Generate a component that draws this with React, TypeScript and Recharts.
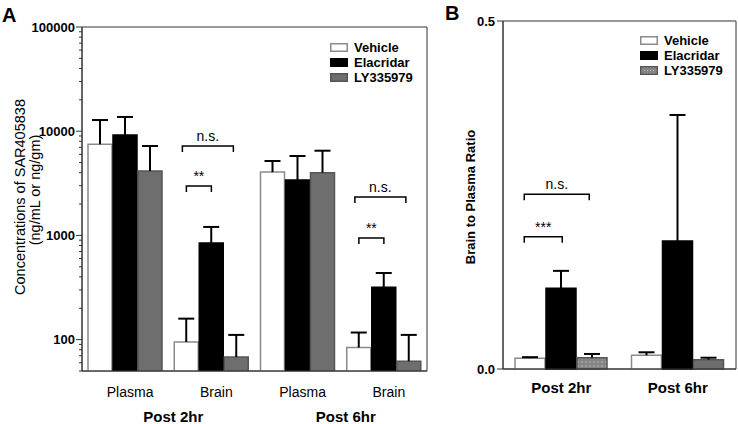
import React from "react";
import {
  BarChart,
  Bar,
  XAxis,
  YAxis,
  ErrorBar,
  ReferenceDot,
  ReferenceArea,
  Legend,
  Cell,
} from "recharts";

const FONT = '"Liberation Sans", Arial, Helvetica, sans-serif';

// Panel A: concentrations of SAR405838 (ng/mL or ng/gm), log axis
const tissues = ["Plasma", "Brain", "Plasma", "Brain"];
const timeLabels = ["Post 2hr", "Post 6hr"];
const vehicleConc = [7500, 95, 4050, 84];
const vehicleConcErr = [5300, 64, 1130, 33];
const elacridarConc = [9200, 846, 3400, 318];
const elacridarConcErr = [4500, 360, 2380, 118];
const lyConc = [4150, 68, 4000, 62];
const lyConcErr = [3060, 43, 2500, 49];
const decadeTicks = [100, 1000, 10000, 100000];

// Panel B: brain to plasma ratio
const vehicleRatio = [0.0154, 0.0197];
const vehicleRatioErr = [0.0016, 0.0043];
const elacridarRatio = [0.116, 0.184];
const elacridarRatioErr = [0.025, 0.181];
const lyRatio = [0.016, 0.0134];
const lyRatioErr = [0.0056, 0.0028];
const ratioTicks = [0, 0.5];

// significance brackets: group they sit over, height in data units, text
const bracketsA = [
  { group: 1, y: 7200, text: "n.s.", wide: true },
  { group: 1, y: 2980, text: "**", wide: false },
  { group: 3, y: 2340, text: "n.s.", wide: true },
  { group: 3, y: 944, text: "**", wide: false },
];
const bracketsB = [
  { group: 0, y: 0.251, text: "n.s.", wide: true },
  { group: 0, y: 0.19, text: "***", wide: false },
];

const concRows = tissues.map((tissue, i) => ({
  key: `${tissue} ${timeLabels[Math.floor(i / 2)]}`,
  tissue,
  time: timeLabels[Math.floor(i / 2)],
  vehicle: vehicleConc[i],
  vehicleErr: [0, vehicleConcErr[i]],
  elacridar: elacridarConc[i],
  elacridarErr: [0, elacridarConcErr[i]],
  ly: lyConc[i],
  lyErr: [0, lyConcErr[i]],
}));

const ratioRows = timeLabels.map((time, i) => ({
  time,
  vehicle: vehicleRatio[i],
  vehicleErr: [0, vehicleRatioErr[i]],
  elacridar: elacridarRatio[i],
  elacridarErr: [0, elacridarRatioErr[i]],
  ly: lyRatio[i],
  lyErr: [0, lyRatioErr[i]],
}));

// minor log ticks: 50..90, then 2..9 x each decade
const logTicks = [50, 60, 70, 80, 90].concat(
  decadeTicks.slice(0, -1).flatMap((d) => [1, 2, 3, 4, 5, 6, 7, 8, 9].map((m) => m * d)),
  [100000]
);

const GRAY = "#6e6e6e";
const AXIS = "#333";

function LogTick({ x, y, payload }: any) {
  const v = payload.value;
  const major = decadeTicks.includes(v);
  return (
    <g>
      <line x1={x - (major ? 6 : 3)} x2={x} y1={y} y2={y} stroke={AXIS} />
      {major && (
        <text
          x={x - 7}
          y={y}
          dy={4.5}
          textAnchor="end"
          fontFamily={FONT}
          fontWeight="bold"
          fontSize={13}
          fill="#000"
        >
          {v}
        </text>
      )}
    </g>
  );
}

// bracket drawn around the group centre (cx) at the line height (cy)
function Bracket({ cx, cy, left, right, text }: any) {
  if (cx == null || cy == null) return null;
  const l = cx + left;
  const r = cx + right;
  return (
    <g>
      <path
        d={`M${l},${cy + 6}V${cy}H${r}V${cy + 6}`}
        fill="none"
        stroke="#000"
        strokeWidth={1.5}
      />
      <text
        x={(l + r) / 2}
        y={cy - 5}
        textAnchor="middle"
        fontFamily={FONT}
        fontSize={14}
        fill="#000"
      >
        {text}
      </text>
    </g>
  );
}

function Swatch({ fill, stroke, dotted }: any) {
  return (
    <svg width={18} height={9} style={{ marginRight: 6, display: "block" }}>
      {dotted && (
        <defs>
          <pattern id="dotsLegend" width={3} height={3} patternUnits="userSpaceOnUse">
            <rect width={3} height={3} fill="#858585" />
            <circle cx={1.5} cy={1.5} r={0.6} fill="#c8c8c8" />
          </pattern>
        </defs>
      )}
      <rect
        x={0.75}
        y={0.75}
        width={16.5}
        height={7.5}
        fill={dotted ? "url(#dotsLegend)" : fill}
        stroke={stroke}
        strokeWidth={1.5}
      />
    </svg>
  );
}

function LegendBox({ dottedLy }: { dottedLy?: boolean }) {
  const items = [
    { name: "Vehicle", fill: "#fff", stroke: "#8a8a8a" },
    { name: "Elacridar", fill: "#000", stroke: "#000" },
    { name: "LY335979", fill: GRAY, stroke: "#555", dotted: dottedLy },
  ];
  return (
    <div style={{ fontFamily: FONT, fontWeight: "bold", fontSize: 13, color: "#000" }}>
      {items.map((it) => (
        <div key={it.name} style={{ display: "flex", alignItems: "center", height: 15 }}>
          <Swatch {...it} />
          {it.name}
        </div>
      ))}
    </div>
  );
}

const errProps = { direction: "y" as const, stroke: "#000", strokeWidth: 2, isAnimationActive: false };

function ConcentrationChart() {
  return (
    <BarChart
      width={440}
      height={424}
      data={concRows}
      margin={{ top: 27, right: 13, bottom: 0, left: 0 }}
      barSize={24}
      barGap={1}
    >
      <XAxis
        xAxisId="cat"
        dataKey="key"
        height={30}
        interval={0}
        tickFormatter={(k, i) => tissues[i]}
        tickLine={false}
        tickSize={0}
        tickMargin={16}
        axisLine={{ stroke: AXIS }}
        tick={{ fontSize: 14, fill: "#000", fontFamily: FONT, dx: 5 }}
      />
      <XAxis
        xAxisId="time"
        dataKey="time"
        allowDuplicatedCategory={false}
        height={23}
        axisLine={false}
        tickLine={false}
        tickSize={0}
        tickMargin={10}
        tick={{ fontSize: 15, fontWeight: "bold", fill: "#000", fontFamily: FONT, dx: 5 }}
      />
      <YAxis
        scale="log"
        domain={[50, 100000]}
        allowDataOverflow
        ticks={logTicks}
        interval={0}
        width={82}
        tickLine={false}
        tickSize={0}
        tickMargin={0}
        axisLine={{ stroke: AXIS }}
        tick={<LogTick />}
      />
      <ReferenceArea xAxisId="cat" y1={50} y2={100000} fill="none" stroke={AXIS} ifOverflow="visible" />
      <Legend
        layout="vertical"
        align="center"
        verticalAlign="middle"
        content={() => <LegendBox />}
        wrapperStyle={{ left: 330, top: 40, width: "auto" }}
      />
      <Bar xAxisId="cat" dataKey="vehicle" name="Vehicle" fill="#fff" stroke="#8a8a8a" strokeWidth={1.5} isAnimationActive={false}>
        <ErrorBar dataKey="vehicleErr" width={8} {...errProps} />
      </Bar>
      <Bar xAxisId="cat" dataKey="elacridar" name="Elacridar" fill="#000" stroke="#000" strokeWidth={1.5} isAnimationActive={false}>
        <ErrorBar dataKey="elacridarErr" width={8} {...errProps} />
      </Bar>
      <Bar xAxisId="cat" dataKey="ly" name="LY335979" fill={GRAY} stroke="#555" strokeWidth={1.5} isAnimationActive={false}>
        <ErrorBar dataKey="lyErr" width={8} {...errProps} />
      </Bar>
      {bracketsA.map((b, i) => (
        <ReferenceDot
          key={i}
          xAxisId="cat"
          x={concRows[b.group].key}
          y={b.y}
          ifOverflow="visible"
          shape={(p: any) => (
            <Bracket
              cx={p.cx}
              cy={p.cy}
              left={b.wide ? -29 : -25}
              right={b.wide ? 22 : 0}
              text={b.text}
            />
          )}
        />
      ))}
    </BarChart>
  );
}

// the 2hr LY335979 bar is hatched with dots in panel B
const lyFillsB = ["url(#dotsB)", GRAY];

function RatioChart() {
  return (
    <BarChart
      width={298}
      height={424}
      data={ratioRows}
      margin={{ top: 21, right: 2, bottom: 0, left: 0 }}
      barSize={30}
      barGap={1}
    >
      <defs>
        <pattern id="dotsB" width={4} height={4} patternUnits="userSpaceOnUse">
          <rect width={4} height={4} fill="#858585" />
          <circle cx={2} cy={2} r={0.7} fill="#c8c8c8" />
        </pattern>
      </defs>
      <XAxis
        dataKey="time"
        height={55}
        tickLine={false}
        tickSize={0}
        tickMargin={13}
        axisLine={{ stroke: AXIS }}
        tick={{ fontSize: 15, fontWeight: "bold", fill: "#000", fontFamily: FONT }}
      />
      <YAxis
        domain={[0, 0.5]}
        ticks={ratioTicks}
        interval={0}
        width={63}
        tickSize={6}
        tickMargin={2}
        tickLine={{ stroke: AXIS }}
        axisLine={{ stroke: AXIS }}
        tickFormatter={(v) => v.toFixed(1)}
        tick={{ fontSize: 13, fontWeight: "bold", fill: "#000", fontFamily: FONT }}
      />
      <ReferenceArea y1={0} y2={0.5} fill="none" stroke={AXIS} ifOverflow="visible" />
      <Legend
        layout="vertical"
        align="center"
        verticalAlign="middle"
        content={() => <LegendBox dottedLy />}
        wrapperStyle={{ left: 200, top: 33, width: "auto" }}
      />
      <Bar dataKey="vehicle" name="Vehicle" fill="#fff" stroke="#8a8a8a" strokeWidth={1.5} isAnimationActive={false}>
        <ErrorBar dataKey="vehicleErr" width={8} {...errProps} />
      </Bar>
      <Bar dataKey="elacridar" name="Elacridar" fill="#000" stroke="#000" strokeWidth={1.5} isAnimationActive={false}>
        <ErrorBar dataKey="elacridarErr" width={8} {...errProps} />
      </Bar>
      <Bar dataKey="ly" name="LY335979" fill={GRAY} stroke="#555" strokeWidth={1.5} isAnimationActive={false}>
        {ratioRows.map((r, i) => (
          <Cell key={r.time} fill={lyFillsB[i]} />
        ))}
        <ErrorBar dataKey="lyErr" width={8} {...errProps} />
      </Bar>
      {bracketsB.map((b, i) => (
        <ReferenceDot
          key={i}
          x={ratioRows[b.group].time}
          y={b.y}
          ifOverflow="visible"
          shape={(p: any) => (
            <Bracket
              cx={p.cx}
              cy={p.cy}
              left={-37}
              right={b.wide ? 28 : 1}
              text={b.text}
            />
          )}
        />
      ))}
    </BarChart>
  );
}

export default function App() {
  return (
    <div style={{ position: "absolute", left: 0, top: 0, width: 738, height: 424, background: "#fff" }}>
      {/* one-sided error bars: hide the lower cap */}
      <style>{".recharts-errorBar line:nth-of-type(3){display:none}"}</style>
      <div style={{ position: "absolute", left: 0, top: 0 }}>
        <ConcentrationChart />
      </div>
      <div style={{ position: "absolute", left: 440, top: 0 }}>
        <RatioChart />
      </div>
      <svg
        width={738}
        height={424}
        style={{ position: "absolute", left: 0, top: 0, pointerEvents: "none" }}
        fontFamily={FONT}
      >
        <text x={2} y={22} fontSize={20} fontWeight="bold">A</text>
        <text x={445} y={20} fontSize={20} fontWeight="bold">B</text>
        <text x={25} y={197} fontSize={14.5} textAnchor="middle" transform="rotate(-90, 25, 197)">
          Concentrations of SAR405838
        </text>
        <text x={39.5} y={190} fontSize={14.5} textAnchor="middle" transform="rotate(-90, 39.5, 190)">
          (ng/mL or ng/gm)
        </text>
        <text x={475} y={197} fontSize={13} fontWeight="bold" textAnchor="middle" transform="rotate(-90, 475, 197)">
          Brain to Plasma Ratio
        </text>
      </svg>
    </div>
  );
}
